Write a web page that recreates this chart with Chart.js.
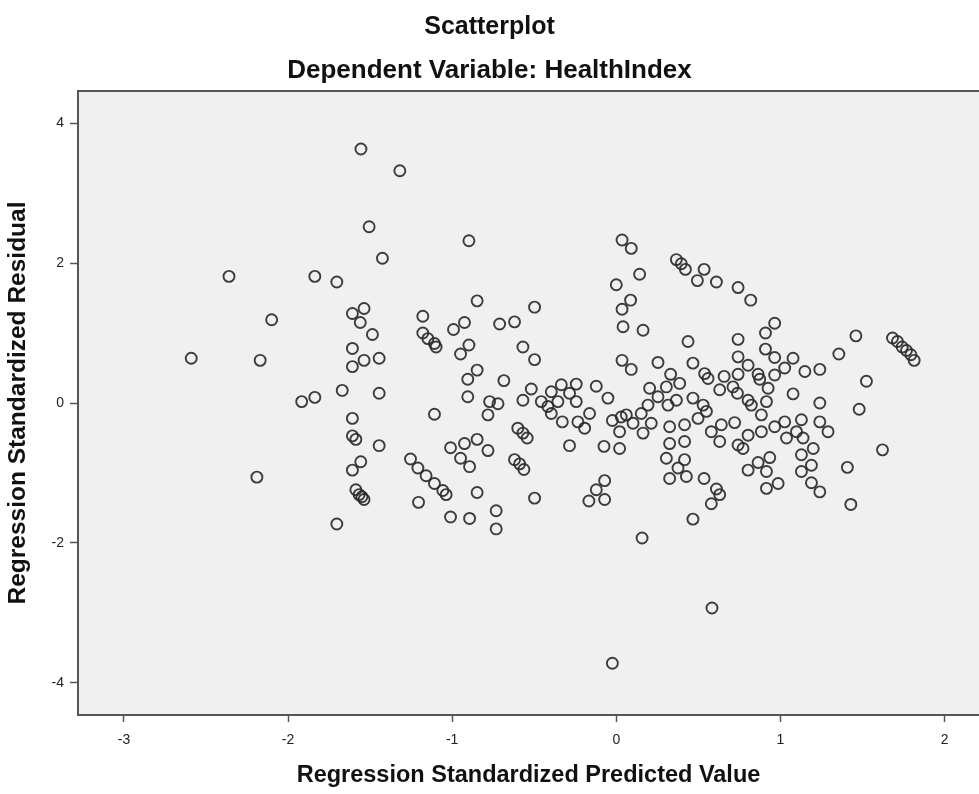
<!DOCTYPE html>
<html>
<head>
<meta charset="utf-8">
<title>Scatterplot</title>
<script src="https://cdn.jsdelivr.net/npm/chart.js@4.4.0/dist/chart.umd.min.js"></script>
<style>
  html, body { margin: 0; padding: 0; background: #fff; overflow: hidden; }
  canvas { display: block; }
</style>
</head>
<body>
<canvas id="scatter" width="979" height="794"></canvas>
<script>
// Regression standardized predicted value (x) for each case
const predicted = [
  -1.556, -1.319, -1.506, -1.425, -2.36, -1.837, -1.703, -1.537, -1.608, -1.56,
  -2.10, -1.486, -1.608, -2.59, -2.17, -1.537, -1.445, -1.608, -1.67, -1.445,
  -1.917, -1.837, -1.608, -1.608, -1.587, -1.445, -1.557, -1.608, -2.19, -1.587,
  -1.567, -1.537, -1.55, -1.703,
  -0.898, -0.848, -1.179, -1.179, -1.148, -1.108, -1.098, -0.925, -0.992, -0.711,
  -0.62, -0.498, -0.898, -0.949, -0.569, -0.498, -0.848, -0.905, -0.685, -0.905,
  -0.772, -0.721, -0.518, -0.569, -0.396, -0.335, -0.285, -0.244, -0.122, -0.051,
  -0.457, -0.356, -0.244,
  -0.782, -1.108, -0.6, -0.569, -0.543, -1.01, -0.925, -0.848, -0.782, -0.949,
  -0.894, -0.62, -0.589, -0.563, -1.254, -1.209, -1.159, -1.108, -1.057, -1.037,
  -0.848, -1.205, -1.01, -0.894, -0.732, -0.732, -0.498, -0.285, -0.329, -0.396,
  -0.417, -0.234, -0.193, -0.163, -0.024, 0.03, -0.075, 0.02, -0.071, -0.122,
  -0.167, -0.071, 0.02,
  0.035, 0.091, 0.142, 0, 0.087, 0.035, 0.041, 0.163, 0.366, 0.396,
  0.421, 0.535, 0.494, 0.61, 0.742, 0.819, 0.965, 0.909, 0.437, 0.742,
  0.035, 0.091, 0.254, 0.467, 0.742, 0.803, 0.909, 0.965, 1.077, 1.026,
  1.149, 1.24, 0.331, 0.386, 0.538, 0.559, 0.657, 0.742, 0.864, 0.874,
  0.965, 0.203, 0.305, 0.254, 0.315, 0.193, 0.467, 0.366, 0.63, 0.711,
  0.738, 0.803, 0.823, 0.925, 0.915, 1.077, 1.24,
  0.061, 0.102, 0.152, 0.163, 0.213, 0.325, 0.416, 0.325, 0.416, 0.498,
  0.549, 0.529, 0.579, 0.63, 0.64, 0.721, 0.305, 0.416, 0.376, 0.325,
  0.427, 0.535, 0.61, 0.63, 0.579, 0.467, 0.157, 0.742, 0.772, 0.803,
  0.884, 0.803, 0.864, 0.935, 0.915, 0.915, 0.986, 0.965, 1.026, 1.037,
  1.098, 1.128, 1.138, 1.2, 1.128, 1.189, 1.128, 1.189, 1.24, 1.24,
  1.29, 0.884,
  1.46, 1.356, 1.524, 1.683, 1.713, 1.742, 1.768, 1.795, 1.815, 1.48,
  1.622, 1.408, 1.429, 0.583, -0.024
];

// Regression standardized residual (y) for each case, same order
const residual = [
  3.63, 3.32, 2.52, 2.07, 1.81, 1.81, 1.73, 1.35, 1.28, 1.15,
  1.19, 0.98, 0.78, 0.64, 0.61, 0.61, 0.64, 0.52, 0.18, 0.14,
  0.02, 0.08, -0.22, -0.47, -0.52, -0.61, -0.84, -0.96, -1.06, -1.24,
  -1.31, -1.38, -1.34, -1.73,
  2.32, 1.46, 1.24, 1.0, 0.92, 0.85, 0.80, 1.15, 1.05, 1.13,
  1.16, 1.37, 0.83, 0.70, 0.80, 0.62, 0.47, 0.34, 0.32, 0.09,
  0.02, -0.01, 0.20, 0.04, 0.16, 0.26, 0.14, 0.27, 0.24, 0.07,
  0.02, 0.02, 0.02,
  -0.17, -0.16, -0.36, -0.43, -0.50, -0.64, -0.58, -0.52, -0.68, -0.79,
  -0.91, -0.81, -0.87, -0.95, -0.80, -0.93, -1.04, -1.15, -1.25, -1.31,
  -1.28, -1.42, -1.63, -1.65, -1.54, -1.80, -1.36, -0.61, -0.27, -0.15,
  -0.05, -0.27, -0.36, -0.15, -0.25, -0.2, -0.62, -0.65, -1.11, -1.24,
  -1.40, -1.38, -0.41,
  2.33, 2.21, 1.84, 1.69, 1.47, 1.34, 1.09, 1.04, 2.05, 1.99,
  1.91, 1.91, 1.75, 1.73, 1.65, 1.47, 1.14, 1.0, 0.88, 0.91,
  0.61, 0.48, 0.58, 0.57, 0.66, 0.54, 0.77, 0.65, 0.64, 0.50,
  0.45, 0.48, 0.41, 0.28, 0.42, 0.35, 0.38, 0.41, 0.41, 0.34,
  0.40, 0.21, 0.23, 0.09, -0.03, -0.03, 0.07, 0.04, 0.19, 0.23,
  0.14, 0.04, -0.03, 0.21, 0.02, 0.13, 0.0,
  -0.17, -0.29, -0.15, -0.43, -0.29, -0.34, -0.31, -0.58, -0.55, -0.22,
  -0.12, -0.03, -0.41, -0.55, -0.31, -0.28, -0.79, -0.81, -0.93, -1.08,
  -1.05, -1.08, -1.23, -1.31, -1.44, -1.66, -1.93, -0.60, -0.65, -0.46,
  -0.41, -0.96, -0.85, -0.78, -0.98, -1.22, -1.15, -0.34, -0.27, -0.50,
  -0.41, -0.24, -0.50, -0.65, -0.74, -0.89, -0.98, -1.14, -1.27, -0.27,
  -0.41, -0.17,
  0.96, 0.70, 0.31, 0.93, 0.88, 0.80, 0.75, 0.69, 0.61, -0.09,
  -0.67, -0.92, -1.45, -2.93, -3.72
];

// Tick labels shown on each axis
const xTickValues = [-3, -2, -1, 0, 1, 2];
const yTickValues = [-4, -2, 0, 2, 4];

const FONT = "'Liberation Sans', Arial, sans-serif";
const LINE_COLOR = '#555555';

// Grey plot background and the top edge of the frame
const plotFrame = {
  id: 'plotFrame',
  beforeDraw(chart) {
    const { ctx, chartArea: a } = chart;
    ctx.save();
    ctx.fillStyle = '#f0f0f0';
    ctx.fillRect(a.left, a.top, a.right - a.left, a.bottom - a.top);
    ctx.restore();
  },
  beforeDatasetsDraw(chart) {
    const { ctx, chartArea: a } = chart;
    ctx.save();
    ctx.strokeStyle = LINE_COLOR;
    ctx.lineWidth = 2;
    ctx.beginPath();
    ctx.moveTo(a.left, a.top);
    ctx.lineTo(a.right, a.top);
    ctx.stroke();
    ctx.restore();
  }
};

const points = predicted.map((x, i) => ({ x: x, y: residual[i] }));

new Chart(document.getElementById('scatter'), {
  type: 'scatter',
  data: {
    datasets: [{
      label: 'Cases',
      data: points,
      pointStyle: 'circle',
      pointRadius: 5.5,
      pointHoverRadius: 5.5,
      borderWidth: 1.9,
      borderColor: 'rgba(40, 40, 40, 0.9)',
      backgroundColor: 'rgba(0, 0, 0, 0)'
    }]
  },
  options: {
    responsive: false,
    animation: false,
    layout: {
      autoPadding: false,
      padding: { left: 0, right: 0, top: 0, bottom: 0 }
    },
    plugins: {
      legend: { display: false },
      tooltip: { enabled: false },
      title: {
        display: true,
        text: 'Scatterplot',
        color: '#111',
        font: { family: FONT, size: 25, weight: 'bold' },
        padding: { top: 12, bottom: 6 }
      },
      subtitle: {
        display: true,
        text: 'Dependent Variable: HealthIndex',
        color: '#111',
        font: { family: FONT, size: 26, weight: 'bold' },
        padding: { top: 7.4, bottom: 4.4 }
      }
    },
    scales: {
      x: {
        type: 'linear',
        min: -3.28,
        max: 2.21,
        afterBuildTicks: function(scale) {
          scale.ticks = xTickValues.map(v => ({ value: v }));
        },
        afterFit: function(scale) {
          scale.height = 79;
          scale.paddingLeft = 0;
          scale.paddingRight = 0;
        },
        grid: {
          display: true,
          drawOnChartArea: false,
          drawTicks: true,
          tickLength: 7,
          tickColor: LINE_COLOR,
          tickWidth: 1.5
        },
        border: { display: true, color: LINE_COLOR, width: 2 },
        ticks: {
          color: '#222',
          padding: 10,
          maxRotation: 0,
          font: { family: FONT, size: 14 }
        },
        title: {
          display: true,
          text: 'Regression Standardized Predicted Value',
          color: '#111',
          font: { family: FONT, size: 23.5, weight: 'bold' },
          padding: { top: 4, bottom: 4 }
        }
      },
      y: {
        type: 'linear',
        min: -4.46,
        max: 4.46,
        afterBuildTicks: function(scale) {
          scale.ticks = yTickValues.map(v => ({ value: v }));
        },
        afterFit: function(scale) {
          scale.width = 78;
          scale.paddingTop = 0;
          scale.paddingBottom = 0;
        },
        grid: {
          display: true,
          drawOnChartArea: false,
          drawTicks: true,
          tickLength: 8,
          tickColor: LINE_COLOR,
          tickWidth: 1.5
        },
        border: { display: true, color: LINE_COLOR, width: 2 },
        ticks: {
          color: '#222',
          padding: 6,
          font: { family: FONT, size: 14 }
        },
        title: {
          display: true,
          text: 'Regression Standardized Residual',
          color: '#111',
          font: { family: FONT, size: 24.5, weight: 'bold' },
          padding: { top: 4, bottom: 4 }
        }
      }
    }
  },
  plugins: [plotFrame]
});
</script>
</body>
</html>
